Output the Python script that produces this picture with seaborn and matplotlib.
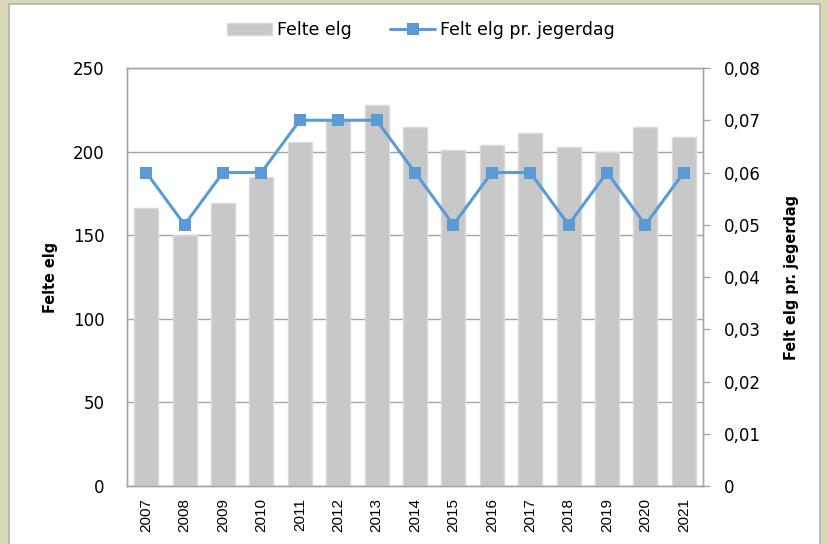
import numpy as np
import pandas as pd
import matplotlib
matplotlib.use("Agg")
import matplotlib.pyplot as plt
import matplotlib.patches as mpatches
from matplotlib.lines import Line2D
from matplotlib.ticker import FuncFormatter, MultipleLocator
import seaborn as sns

# data
years = ["2007", "2008", "2009", "2010", "2011", "2012", "2013", "2014",
         "2015", "2016", "2017", "2018", "2019", "2020", "2021"]
felte_elg = [166, 150, 169, 185, 206, 219, 228, 215, 201, 204, 211, 203, 200, 215, 209]
felt_pr_jegerdag = [0.06, 0.05, 0.06, 0.06, 0.07, 0.07, 0.07, 0.06,
                    0.05, 0.06, 0.06, 0.05, 0.06, 0.05, 0.06]

df = pd.DataFrame({"year": years, "felte": felte_elg, "rate": felt_pr_jegerdag})

sns.set_style("white")
plt.rcParams["font.family"] = ["DejaVu Sans"]
plt.rcParams["text.color"] = "black"
plt.rcParams["axes.labelcolor"] = "black"
plt.rcParams["xtick.labelcolor"] = "black"
plt.rcParams["ytick.labelcolor"] = "black"

bar_color = "#C8C8C8"
line_color = "#5B9BD5"
axis_gray = "#A6A6A6"
label_font = dict(fontsize=11.5, fontweight="bold", family="DejaVu Sans",
                  fontstretch="condensed")

fig = plt.figure(figsize=(8.27, 5.44), dpi=100)
fig.patch.set_facecolor("#D8D8B6")
# white chart panel inside beige border
panel = mpatches.Rectangle((9 / 827, -0.01), 811 / 827, 1.01 - 4 / 544,
                           transform=fig.transFigure, facecolor="white",
                           edgecolor="#B0B0B0", linewidth=1.2, zorder=-10)
fig.patches.append(panel)

ax = fig.add_axes([127 / 827, 1 - 486 / 544, 576 / 827, 418 / 544])
ax.set_facecolor("none")

sns.barplot(data=df, x="year", y="felte", color=bar_color, width=0.62,
            edgecolor="#DADADA", linewidth=1, saturation=1, ax=ax, zorder=2)
ax.set_ylim(0, 250)
ax.set_xlim(-0.5, len(years) - 0.5)
ax.yaxis.set_major_locator(MultipleLocator(50))
ax.grid(axis="y", color=axis_gray, linewidth=1, zorder=0)
ax.set_axisbelow(True)
ax.set_xlabel("")
ax.set_ylabel("Felte elg", labelpad=11, **label_font)
ax.tick_params(axis="y", length=0, pad=16, labelsize=12, labelcolor="black")
ax.tick_params(axis="x", length=0, pad=9, labelrotation=90, labelsize=11,
               labelfontfamily="Liberation Sans", labelcolor="black")
for s in ax.spines.values():
    s.set_color(axis_gray)
    s.set_linewidth(1)

ax2 = ax.twinx()
sns.lineplot(x=np.arange(len(years)), y=felt_pr_jegerdag, ax=ax2, color=line_color,
             linewidth=2.2, marker="s", markersize=8.5, markeredgewidth=0,
             zorder=3)
ax2.set_ylim(0, 0.08)
ax2.yaxis.set_major_locator(MultipleLocator(0.01))
ax2.yaxis.set_major_formatter(FuncFormatter(
    lambda v, p: "0" if abs(v) < 1e-9 else f"{v:.2f}".replace(".", ",")))
ax2.tick_params(axis="y", direction="out", length=5, width=1, color=axis_gray,
                pad=10, labelsize=12, labelcolor="black", right=True)
ax2.set_ylabel("Felt elg pr. jegerdag", labelpad=17, **label_font)
for s in ax2.spines.values():
    s.set_color(axis_gray)
    s.set_linewidth(1)

handles = [mpatches.Patch(facecolor=bar_color, edgecolor="#DADADA", label="Felte elg"),
           Line2D([0], [0], color=line_color, linewidth=2.2, marker="s",
                  markersize=8.5, markeredgewidth=0, label="Felt elg pr. jegerdag")]
fig.legend(handles=handles, loc="center", bbox_to_anchor=(421 / 827, 1 - 30 / 544),
           ncol=2, frameon=False, fontsize=12.5, handlelength=2.6, columnspacing=2.2,
           handletextpad=0.3, labelcolor="black")

fig.savefig("out.png", dpi=100, facecolor=fig.get_facecolor())
